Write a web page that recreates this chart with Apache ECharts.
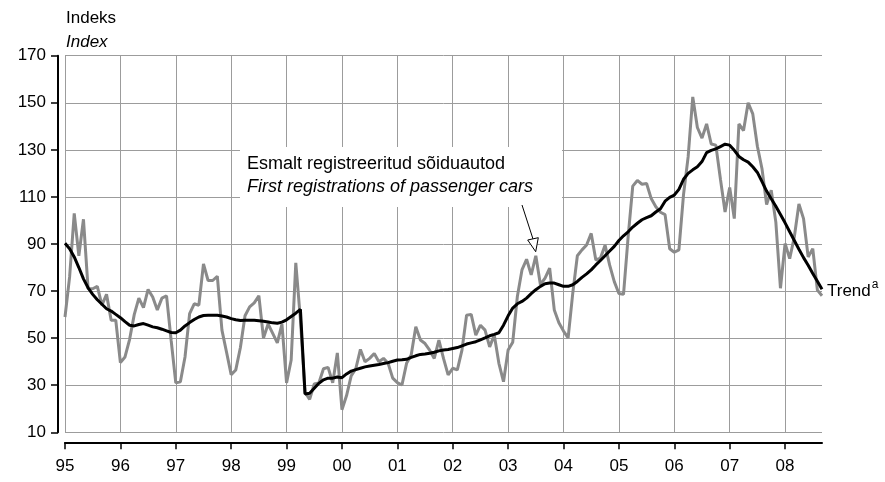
<!DOCTYPE html>
<html>
<head>
<meta charset="utf-8">
<script src="https://cdn.jsdelivr.net/npm/echarts@6/dist/echarts.min.js"></script>
<style>
html,body{margin:0;padding:0;background:#fff;}
#chart{width:885px;height:482px;}
</style>
</head>
<body>
<div id="chart"></div>
<script>
// Year tick labels (one category per month, Jan 1995 - Sep 2008)
const yearLabels = ['95','96','97','98','99','00','01','02','03','04','05','06','07','08'];
const monthsInLastYear = 9;

// Esmalt registreeritud sõiduautod / First registrations of passenger cars (index)
const registrations = [
  59, 76, 103, 85, 100.5, 71, 71, 72, 64, 68.6, 57.6, 57.6,
  39.6, 42, 49.5, 60, 67, 63, 70.7, 67.5, 62, 67, 68, 49,
  31, 31.5, 42, 60.4, 64.6, 64, 81.5, 74.5, 74.5, 76.3, 53.4, 44,
  34.5, 36.5, 46, 59.5, 63.3, 65, 68, 50, 56, 52, 48, 56,
  31, 40.7, 82, 58, 27, 24, 30.5, 31, 37, 37.6, 31, 43.7,
  19.6, 25.6, 34, 37, 45.2, 40, 41.4, 43.5, 40, 41.4, 39.3, 33,
  31.1, 30.1, 39.3, 42.8, 54.8, 49.2, 47.7, 44.9, 41.4, 49.2, 41.4, 34.4,
  37.2, 36.5, 44.9, 59.7, 60.1, 51.3, 55.5, 53.4, 46.3, 51.3, 39.3, 31.5,
  45, 48.3, 67.7, 79, 83.5, 76.9, 85, 72.7, 75.5, 79.7, 62, 56.5,
  53, 50.1, 69, 85, 87.5, 89.6, 94.5, 83.2, 84, 89.5, 81, 74,
  69, 68.6, 93, 114.6, 117, 115.4, 115.7, 109.3, 105.8, 103.5, 102.5, 88,
  86.5, 87.5, 111, 127, 152.5, 139.5, 135, 141, 132.5, 132, 117.5, 103.6,
  114, 100.8, 141, 138.2, 150, 145.3, 131.5, 122, 106.8, 112.8, 99.3, 71.2,
  90.2, 83.8, 93, 107, 100.8, 84.5, 88, 70.4, 68
];

// Trend
const trend = [
  90.3, 88, 84.5, 80, 75.2, 71.4, 68.6, 66.3, 64.4, 62.5, 61.5, 60.1,
  58.7, 57, 55.5, 55.2, 55.8, 56.2, 55.5, 54.8, 54.4, 53.8, 53.1, 52.4,
  52.3, 53.4, 55.2, 56.6, 57.9, 59, 59.6, 59.7, 59.7, 59.7, 59.4, 59,
  58.3, 57.8, 57.5, 57.6, 57.6, 57.6, 57.4, 57.2, 56.9, 56.5, 56.3, 56.8,
  57.8, 59.2, 60.6, 62.2, 26.3, 26.6, 28.7, 30.8, 32.3, 33, 33, 33.5,
  33.2, 34.8, 36, 36.6, 37.2, 37.8, 38.2, 38.5, 38.8, 39.2, 39.6, 40.2,
  40.7, 40.8, 41, 41.8, 42.5, 43.1, 43.3, 43.6, 44, 44.6, 45, 45.2,
  45.6, 46, 46.7, 47.5, 48, 48.5, 49.3, 50.1, 51, 51.6, 52.3, 55.5,
  59.5, 62.8, 64.6, 65.6, 67, 68.9, 70.6, 72, 73.1, 73.4, 73.4, 72.7,
  72, 72, 72.7, 74.1, 75.8, 77.3, 79, 81.1, 83, 85, 87, 89,
  91.5, 93.5, 95.2, 97.2, 98.8, 100.3, 101.2, 102, 103.6, 105, 108.2, 109.8,
  110.8, 113.2, 117.5, 120, 121.5, 122.8, 125, 128.8, 129.8, 130.4, 131.4, 132.4,
  132, 129.8, 127.2, 125.8, 124.8, 122.8, 120.4, 116.5, 112.5, 109.2, 106, 102.5,
  99, 95.2, 91.5, 87.8, 84.2, 81, 77.5, 74.2, 70.8
];

const yMin = 10, yMax = 170, yStep = 20;

const categories = [];
yearLabels.forEach(function (y, yi) {
  const n = (yi === yearLabels.length - 1) ? monthsInLastYear : 12;
  for (let m = 1; m <= n; m++) categories.push(y + '-' + (m < 10 ? '0' + m : m));
});
const isYearStart = function (idx) { return idx % 12 === 0; };

const FONT = 'Liberation Sans, Arial, sans-serif';
const chart = echarts.init(document.getElementById('chart'), null, {renderer: 'canvas'});
chart.setOption({
  animation: false,
  backgroundColor: '#fff',
  grid: {left: 65, right: 63, top: 55.7, bottom: 49.7, containLabel: false},
  xAxis: {
    type: 'category',
    data: categories,
    boundaryGap: false,
    offset: 10,
    axisLine: {show: true, lineStyle: {color: '#000', width: 2}},
    axisTick: {show: true, interval: isYearStart, length: 7, lineStyle: {color: '#000', width: 1.5}},
    axisLabel: {
      interval: isYearStart, color: '#000', fontSize: 17, fontFamily: FONT, margin: 16,
      formatter: function (v) { return v.split('-')[0]; }
    },
    splitLine: {show: true, interval: isYearStart, lineStyle: {color: '#9c9c9c', width: 1}}
  },
  yAxis: {
    type: 'value',
    min: yMin, max: yMax, interval: yStep,
    offset: 7,
    axisLine: {show: true, lineStyle: {color: '#000', width: 2}},
    axisTick: {show: true, length: 7, lineStyle: {color: '#000', width: 1.5}},
    axisLabel: {color: '#000', fontSize: 17, fontFamily: FONT, margin: 12},
    splitLine: {show: true, lineStyle: {color: '#9c9c9c', width: 1}}
  },
  series: [
    {
      name: 'Esmalt registreeritud sõiduautod', type: 'line', data: registrations,
      symbol: 'none', lineStyle: {color: '#8a8a8a', width: 3}, z: 2
    },
    {
      name: 'Trend', type: 'line', data: trend,
      symbol: 'none', lineStyle: {color: '#000', width: 3}, z: 3,
      endLabel: {
        show: true, distance: 5, color: '#000', fontFamily: FONT, fontSize: 17,
        formatter: '{t|Trend}{s|a}',
        rich: {
          t: {fontSize: 17, fontFamily: FONT, color: '#000', padding: [4, 0, 0, 0]},
          s: {fontSize: 12, fontFamily: FONT, color: '#000', verticalAlign: 'top', padding: [0, 0, 8, 1]}
        }
      }
    }
  ],
  graphic: [
    {type: 'rect', z: 10, shape: {x: 240, y: 147, width: 322, height: 60}, style: {fill: '#fff'}},
    {type: 'text', z: 11, left: 66, top: 10, style: {text: 'Indeks', fontSize: 17, fontFamily: FONT, fill: '#000'}},
    {type: 'text', z: 11, left: 66, top: 34, style: {text: 'Index', fontSize: 17, fontStyle: 'italic', fontFamily: FONT, fill: '#000'}},
    {type: 'text', z: 11, left: 247, top: 155, style: {text: 'Esmalt registreeritud sõiduautod', fontSize: 18, fontFamily: FONT, fill: '#000'}},
    {type: 'text', z: 11, left: 247, top: 178, style: {text: 'First registrations of passenger cars', fontSize: 18, fontStyle: 'italic', fontFamily: FONT, fill: '#000'}},
    {type: 'polyline', z: 11, shape: {points: [[522, 205], [533, 239]]}, style: {stroke: '#000', lineWidth: 1}},
    {type: 'polygon', z: 11, shape: {points: [[535.7, 251.7], [527.7, 240], [538.3, 237.7]]}, style: {fill: '#fff', stroke: '#000', lineWidth: 1}}
  ]
});
</script>
</body>
</html>
